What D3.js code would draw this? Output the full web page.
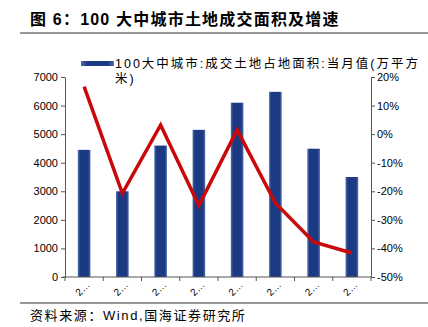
<!DOCTYPE html>
<html>
<head>
<meta charset="utf-8">
<script src="https://cdn.jsdelivr.net/npm/d3@7"></script>
<style>
  html, body { margin: 0; padding: 0; background: #fff; }
  svg { display: block; }
</style>
</head>
<body>
<svg id="chart" width="428" height="327"></svg>
<script>
// Monthly land transaction area for 100 large/medium cities, with YoY growth
const categories = ["2…", "2…", "2…", "2…", "2…", "2…", "2…", "2…"];
const areaValues = [4450, 3000, 4600, 5150, 6100, 6480, 4490, 3500];   // 万平方米
const growthValues = [16.6, -20.7, 3.2, -25.0, 1.5, -24.1, -37.7, -41.6]; // %
const leftTicks = [0, 1000, 2000, 3000, 4000, 5000, 6000, 7000];
const rightTicks = [-50, -40, -30, -20, -10, 0, 10, 20];

const titleText = "图 6：100 大中城市土地成交面积及增速";
const legendLines = ["100大中城市:成交土地占地面积:当月值(万平方", "米)"];
const sourceText = "资料来源：Wind,国海证券研究所";

const svg = d3.select("#chart");
const cjk = "'Liberation Sans', 'Noto Sans CJK SC', sans-serif";

const plot = { left: 65, right: 371, top: 77, bottom: 277 };

const x = d3.scaleBand().domain(d3.range(categories.length))
  .range([plot.left, plot.right]).paddingInner(0.67).paddingOuter(0.335);
const xOuter = d3.scaleBand().domain(d3.range(categories.length))
  .range([plot.left, plot.right]);
const yL = d3.scaleLinear().domain([0, 7000]).range([plot.bottom, plot.top]);
const yR = d3.scaleLinear().domain([-50, 20]).range([plot.bottom, plot.top]);

// Title and rules
svg.append("text").attr("x", 30).attr("y", 25)
  .attr("font-family", cjk).attr("font-size", 16).attr("font-weight", "bold")
  .attr("letter-spacing", 1.2)
  .attr("fill", "#000").text(titleText);
svg.append("line").attr("x1", 20).attr("x2", 428).attr("y1", 33).attr("y2", 33)
  .attr("stroke", "#333").attr("stroke-width", 1);
svg.append("line").attr("x1", 20).attr("x2", 428).attr("y1", 303).attr("y2", 303)
  .attr("stroke", "#333").attr("stroke-width", 1);
svg.append("text").attr("x", 30).attr("y", 320)
  .attr("font-family", cjk).attr("font-size", 13).attr("letter-spacing", 1.6)
  .attr("fill", "#000").text(sourceText);

// Bar gradient
const defs = svg.append("defs");
const grad = defs.append("linearGradient").attr("id", "barGrad")
  .attr("x1", "0%").attr("x2", "100%").attr("y1", "0%").attr("y2", "0%");
grad.append("stop").attr("offset", "0%").attr("stop-color", "#4f6fae");
grad.append("stop").attr("offset", "18%").attr("stop-color", "#1c3a84");
grad.append("stop").attr("offset", "82%").attr("stop-color", "#1c3a84");
grad.append("stop").attr("offset", "100%").attr("stop-color", "#4f6fae");

// Bars
svg.append("g").selectAll("rect").data(areaValues).join("rect")
  .attr("x", (d, i) => x(i))
  .attr("width", x.bandwidth())
  .attr("y", d => yL(d))
  .attr("height", d => yL(0) - yL(d))
  .attr("fill", "url(#barGrad)");

// Growth line
const line = d3.line()
  .x((d, i) => xOuter(i) + xOuter.bandwidth() / 2)
  .y(d => yR(d));
svg.append("path").datum(growthValues)
  .attr("d", line).attr("fill", "none")
  .attr("stroke", "#c8080b").attr("stroke-width", 3.5)
  .attr("stroke-linejoin", "miter");

// Left axis
const axL = svg.append("g").attr("transform", `translate(${plot.left},0)`)
  .call(d3.axisLeft(yL).tickValues(leftTicks).tickSize(4).tickSizeOuter(0).tickFormat(d3.format("d")));
axL.select(".domain").attr("stroke", "#555");
axL.selectAll(".tick line").attr("stroke", "#555");
axL.selectAll("text").attr("font-family", "'Liberation Sans', Arial, sans-serif")
  .attr("font-size", 11).attr("fill", "#000").attr("x", -7);

// Right axis
const axR = svg.append("g").attr("transform", `translate(${plot.right},0)`)
  .call(d3.axisRight(yR).tickValues(rightTicks).tickSize(4).tickSizeOuter(0).tickFormat(d => d + "%"));
axR.select(".domain").attr("stroke", "#555");
axR.selectAll(".tick line").attr("stroke", "#555");
axR.selectAll("text").attr("font-family", "'Liberation Sans', Arial, sans-serif")
  .attr("font-size", 11).attr("fill", "#000").attr("x", 6);

// Bottom axis: boundaries between categories
const axB = svg.append("g").attr("transform", `translate(0,${plot.bottom})`);
axB.append("line").attr("x1", plot.left - 2).attr("x2", plot.right)
  .attr("stroke", "#555");
axB.selectAll("line.tk").data(d3.range(categories.length + 1)).join("line")
  .attr("class", "tk")
  .attr("x1", i => plot.left + i * xOuter.step()).attr("x2", i => plot.left + i * xOuter.step())
  .attr("y1", 0).attr("y2", 4).attr("stroke", "#555");
axB.selectAll("text").data(categories).join("text")
  .attr("transform", (d, i) => `translate(${xOuter(i) + xOuter.bandwidth() / 2 + 1},${14}) rotate(-45)`)
  .attr("text-anchor", "middle")
  .attr("font-family", "'Liberation Sans', Arial, sans-serif")
  .attr("font-size", 10).attr("fill", "#000").text(d => d);

// Legend
svg.append("rect").attr("x", 81).attr("y", 61).attr("width", 33).attr("height", 5)
  .attr("fill", "url(#barGrad)");
svg.selectAll("text.legend").data(legendLines).join("text")
  .attr("class", "legend")
  .attr("x", 115).attr("y", (d, i) => 68 + i * 15)
  .attr("font-family", cjk).attr("font-size", 12.5).attr("letter-spacing", 2)
  .attr("fill", "#000")
  .text(d => d);
</script>
</body>
</html>
